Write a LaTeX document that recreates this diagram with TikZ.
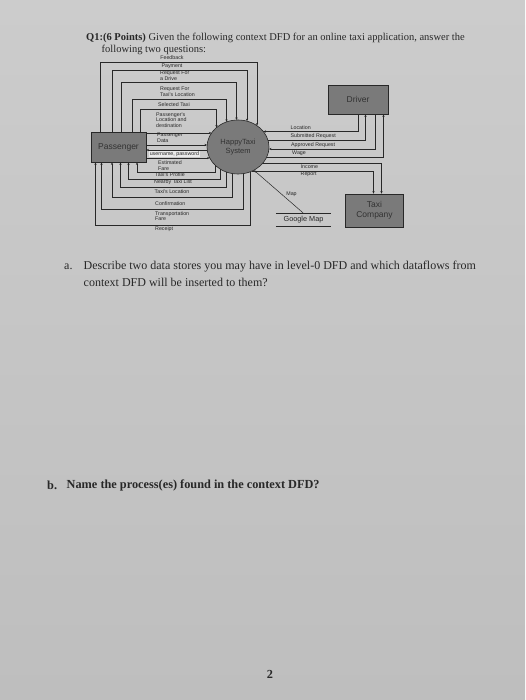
\documentclass[tikz,border=0pt]{standalone}
\usepackage{fontspec}
\setmainfont{Liberation Serif}
\newfontfamily\labfont{Liberation Sans}
\usetikzlibrary{arrows.meta,shapes.geometric}
\definecolor{paper}{RGB}{204,204,204}
\definecolor{paperbot}{RGB}{190,190,190}
\definecolor{ink}{RGB}{40,40,40}
\definecolor{boxfill}{RGB}{122,122,122}
\definecolor{boxtext}{RGB}{50,50,50}
\def\cx{238}\def\cy{147}\def\rx{31}\def\ry{27}
\newcommand\eTop[1]{(#1,{\cy-\ry*sqrt(1-((#1-\cx)/\rx)^2)})}
\newcommand\eBot[1]{(#1,{\cy+\ry*sqrt(1-((#1-\cx)/\rx)^2)})}
\newcommand\eLeft[1]{({\cx-\rx*sqrt(1-((#1-\cy)/\ry)^2)},#1)}
\newcommand\eRight[1]{({\cx+\rx*sqrt(1-((#1-\cy)/\ry)^2)},#1)}
\begin{document}
\begin{tikzpicture}[x=1pt,y=-1pt,
  flow/.style={draw=ink,line width=0.5pt,-{Stealth[length=2.6pt,width=2.2pt]}},
  plain/.style={draw=ink,line width=0.5pt},
  ent/.style={draw=ink,fill=boxfill,line width=0.6pt,inner sep=0pt,font=\labfont\fontsize{8.5}{9.5}\selectfont,text=boxtext,align=center},
  lbl/.style={font=\labfont\fontsize{5.3}{5.6}\selectfont,text=ink,inner sep=0pt,anchor=west,align=left},
  qtext/.style={font=\fontsize{12}{14}\selectfont,text=ink,inner sep=0pt,anchor=west},
  qbold/.style={qtext,font=\bfseries\fontsize{12.3}{14}\selectfont},
  ttext/.style={qtext,font=\fontsize{10.5}{12}\selectfont}]
\fill[top color=paper,bottom color=paperbot] (0,0) rectangle (525,700);
\useasboundingbox (0,0) rectangle (525,700);
% title
\node[ttext] (t1) at (86,38) {\textbf{Q1:(6 Points)} Given the following context DFD for an online taxi application, answer the};
\node[ttext] (t2) at (101.5,50) {following two questions:};
% entities
\node[ent,minimum width=55,minimum height=30] (pass) at (118.5,147) {Passenger};
\node[ent,ellipse,minimum width=62,minimum height=54,font=\labfont\fontsize{7.5}{8.5}\selectfont] (sys) at (\cx,\cy) {HappyTaxi\\System};
\node[ent,minimum width=60,minimum height=29] (drv) at (358,99.5) {Driver};
\node[ent,minimum width=58,minimum height=33] (tc) at (374.5,210.5) {Taxi\\Company};
\node[inner sep=0pt,minimum width=55,minimum height=13,font=\labfont\fontsize{7.3}{8}\selectfont,text=ink] (gm) at (303.5,219.5) {Google Map};
\draw[plain] (gm.north west) -- (gm.north east);
\draw[plain] (gm.south west) -- (gm.south east);
% passenger -> system (top)
\draw[flow] (pass.north -| 100,0) |- (257,62.5) -- \eTop{257};
\draw[flow] (pass.north -| 112,0) |- (247,70.5) -- \eTop{247};
\draw[flow] (pass.north -| 121,0) |- (236.5,82) -- \eTop{236.5};
\draw[flow] (pass.north -| 132,0) |- (226.5,99) -- \eTop{226.5};
\draw[flow] (pass.north -| 140,0) |- (216.5,109) -- \eTop{216.5};
\draw[flow] (pass.east |- 0,133) -- \eLeft{133};
\draw[flow] (pass.east |- 0,145) -- \eLeft{145};
\draw[flow] \eLeft{150} -- (pass.east |- 0,150);
\draw[flow] (pass.east |- 0,158) -- \eLeft{158};
\node[lbl,anchor=center] at (172,57.5) {Feedback};
\node[lbl,anchor=center] at (172,66) {Payment};
\node[lbl] at (160,76) {Request For\\a Drive};
\node[lbl] at (160,91.5) {Request For\\Taxi's Location};
\node[lbl] at (158,104.5) {Selected Taxi};
\node[lbl] at (156,120) {Passenger's\\Location and\\destination};
\node[lbl] at (157,138) {Passenger\\Data};
\node[lbl,fill=white!60!paper,inner sep=0.6pt] at (149,154) {username, password};
% system -> passenger (bottom)
\draw[flow] \eBot{215} |- (137,172) -- (pass.south -| 137,0);
\draw[flow] \eBot{220} |- (128.5,179) -- (pass.south -| 128.5,0);
\draw[flow] \eBot{226} |- (120.5,187) -- (pass.south -| 120.5,0);
\draw[flow] \eBot{232.5} |- (112,197) -- (pass.south -| 112,0);
\draw[flow] \eBot{243} |- (101.5,209) -- (pass.south -| 101.5,0);
\draw[flow] \eBot{250.7} |- (95.5,225) -- (pass.south -| 95.5,0);
\node[lbl] at (158,165.5) {Estimated\\Fare};
\node[lbl] at (155,175) {Taxi's Profile};
\node[lbl] at (154,182.5) {Nearby Taxi List};
\node[lbl] at (154.5,192) {Taxi's Location};
\node[lbl] at (155,203.5) {Confirmation};
\node[lbl] at (155,216) {Transportation\\Fare};
\node[lbl] at (155,229.5) {Receipt};
% driver
\draw[flow] (drv.south -| 358.5,0) |- \eRight{131.5};
\draw[flow] \eRight{140.5} -| (drv.south -| 365.5,0);
\draw[flow] (drv.south -| 375.5,0) |- \eRight{149};
\draw[flow] \eRight{157.5} -| (drv.south -| 383.5,0);
\node[lbl] at (290.5,128) {Location};
\node[lbl] at (290.5,136) {Submitted Request};
\node[lbl] at (291,145) {Approved Request};
\node[lbl] at (292,153) {Wage};
% taxi company
\draw[flow] \eRight{163} -| (tc.north -| 381.5,0);
\draw[flow] \eRight{171} -| (tc.north -| 373.5,0);
\node[lbl] at (300.5,166.5) {Income};
\node[lbl] at (300.5,174.5) {Report};
% google map
\coordinate (mapend) at (254,170.3);
\draw[flow] (gm.north -| 303,0) -- (mapend);
\node[lbl,anchor=center] at (291.5,194) {Map};
% questions
\node[qtext] (qa) at (64,267) {a.};
\node[qtext] (qa1) at (83.5,267) {Describe two data stores you may have in level-0 DFD and which dataflows from};
\node[qtext] (qa2) at (83.5,282) {context DFD will be inserted to them?};
\node[qbold] (qb) at (47,485) {b.};
\node[qbold] (qb1) at (66.5,485) {Name the process(es) found in the context DFD?};
\node[qbold,anchor=center] (pg) at (270,674) {2};
\end{tikzpicture}
\end{document}
